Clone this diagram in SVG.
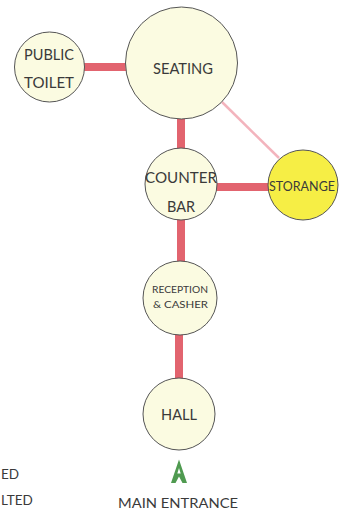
<svg xmlns="http://www.w3.org/2000/svg" width="339" height="515" viewBox="0 0 339 515">
<style>
.n{fill:#fbfbe1;stroke:#555;stroke-width:1}
.y{fill:#f6ee45;stroke:#555;stroke-width:1}
.t{font-family:Lato,"Open Sans",sans-serif;fill:#3a3a3a;text-anchor:middle}
.s{font-family:Lato,"Open Sans",sans-serif;fill:#3a3a3a;text-anchor:start}
.c{stroke:#e2646f;stroke-width:8;fill:none}
.w{stroke:#f3b4bd;stroke-width:2.5;fill:none}
</style>
<rect width="339" height="515" fill="#ffffff"/>
<g id="connectors">
<line class="c" x1="84" y1="67" x2="127" y2="67"/>
<line class="c" x1="181" y1="118" x2="181" y2="149"/>
<line class="c" x1="216" y1="187" x2="269" y2="187"/>
<line class="c" x1="181" y1="219" x2="181" y2="262"/>
<line class="c" x1="179" y1="334" x2="179" y2="379"/>
<line class="w" x1="222" y1="102" x2="279" y2="158"/>
</g>
<g id="public-toilet">
<circle class="n" cx="49.5" cy="67" r="35"/>
<text class="t" x="49" y="60" font-size="15" textLength="50" lengthAdjust="spacingAndGlyphs">PUBLIC</text>
<text class="t" x="49" y="88" font-size="15" textLength="50" lengthAdjust="spacingAndGlyphs">TOILET</text>
</g>
<g id="seating">
<circle class="n" cx="181.5" cy="63" r="56"/>
<text class="t" x="183" y="74" font-size="14.5" textLength="60" lengthAdjust="spacingAndGlyphs">SEATING</text>
</g>
<g id="counter-bar">
<circle class="n" cx="181" cy="184" r="36"/>
<text class="t" x="181" y="183" font-size="14.5" textLength="72" lengthAdjust="spacingAndGlyphs">COUNTER</text>
<text class="t" x="181" y="212" font-size="14.5" textLength="28" lengthAdjust="spacingAndGlyphs">BAR</text>
</g>
<g id="storange">
<circle class="y" cx="303" cy="185" r="35"/>
<text class="t" x="302" y="191" font-size="14" textLength="66" lengthAdjust="spacingAndGlyphs">STORANGE</text>
</g>
<g id="reception">
<circle class="n" cx="180" cy="298" r="37"/>
<text class="t" x="180" y="293" font-size="10" textLength="56" lengthAdjust="spacingAndGlyphs">RECEPTION</text>
<text class="t" x="180.5" y="308" font-size="10" textLength="55" lengthAdjust="spacingAndGlyphs">&amp; CASHER</text>
</g>
<g id="hall">
<circle class="n" cx="179" cy="414" r="36"/>
<text class="t" x="179" y="420" font-size="15" textLength="36" lengthAdjust="spacingAndGlyphs">HALL</text>
</g>
<g id="main-entrance">
<path d="M179,459.5 L187,483 L182.5,483 L179,476.5 L175.5,483 L171,483 Z M179,468 L177.3,473.5 L180.7,473.5 Z" fill="#4f9a50" fill-rule="evenodd"/>
<text class="t" x="178" y="508" font-size="14" textLength="120" lengthAdjust="spacingAndGlyphs">MAIN ENTRANCE</text>
</g>
<g id="legend">
<text class="s" x="1" y="479" font-size="13.5">ED</text>
<text class="s" x="1" y="505" font-size="13.5">LTED</text>
</g>
</svg>
